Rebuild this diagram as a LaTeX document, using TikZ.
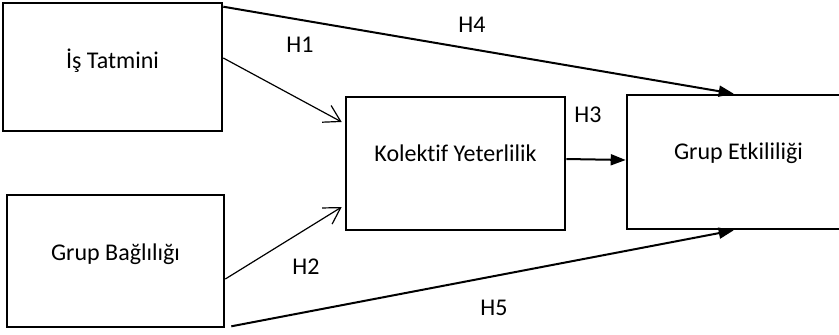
\documentclass[tikz,border=0pt]{standalone}
\usepackage{fontspec}
\setmainfont[Ligatures=NoCommon]{Carlito}
\usetikzlibrary{arrows.meta}
\begin{document}
\begin{tikzpicture}[x=0.5pt,y=-0.5pt,
  box/.style={draw, line width=1.3pt, rectangle, inner sep=0pt, font=\fontsize{12}{14.4}\selectfont},
  bold/.style={line width=1pt, -{Triangle[length=7.5pt,width=5.5pt]}},
  thin/.style={line width=0.6pt, -{Straight Barb[length=8pt,width=9.5pt,line width=0.6pt]}},
  lab/.style={inner sep=0pt, font=\fontsize{12}{14.4}\selectfont}]
\useasboundingbox (0,0) rectangle (839,334);
\clip (0,0) rectangle (839,334);
\node[box, minimum width=109.5pt, text height=32.5pt, text depth=31.5pt] (b1) at (112.5,67) {İş Tatmini};
\node[box, minimum width=108.5pt, text height=32.5pt, text depth=33.5pt] (b2) at (115.5,261) {Grup Bağlılığı};
\node[box, minimum width=109.5pt, text height=32pt, text depth=34.5pt] (b3) at (455.5,163.5) {Kolektif Yeterlilik};
\node[box, minimum width=111.5pt, text height=32pt, text depth=35pt] (b4) at (738.5,162) {Grup Etkililiği};
\draw[bold] ([yshift=-2.5pt]b1.north east) -- ([xshift=54pt]b4.north west);
\draw[thin] ([yshift=4.5pt]b1.east) -- ([xshift=-1.5pt,yshift=20.75pt]b3.west);
\draw[thin] ([yshift=-9pt]b2.east) -- ([xshift=-1.5pt,yshift=-21.75pt]b3.west);
\draw[bold] ([yshift=2.25pt]b3.east) -- ([yshift=1pt]b4.west);
\draw[bold] ([xshift=3pt,yshift=1pt]b2.south east) -- ([xshift=54pt]b4.south west);
\node[lab] (h4) at (472,24.5) {H4};
\node[lab] (h1) at (300,44.5) {H1};
\node[lab] (h3) at (588,115) {H3};
\node[lab] (h2) at (306,267) {H2};
\node[lab] (h5) at (494,307.5) {H5};
\end{tikzpicture}
\end{document}
